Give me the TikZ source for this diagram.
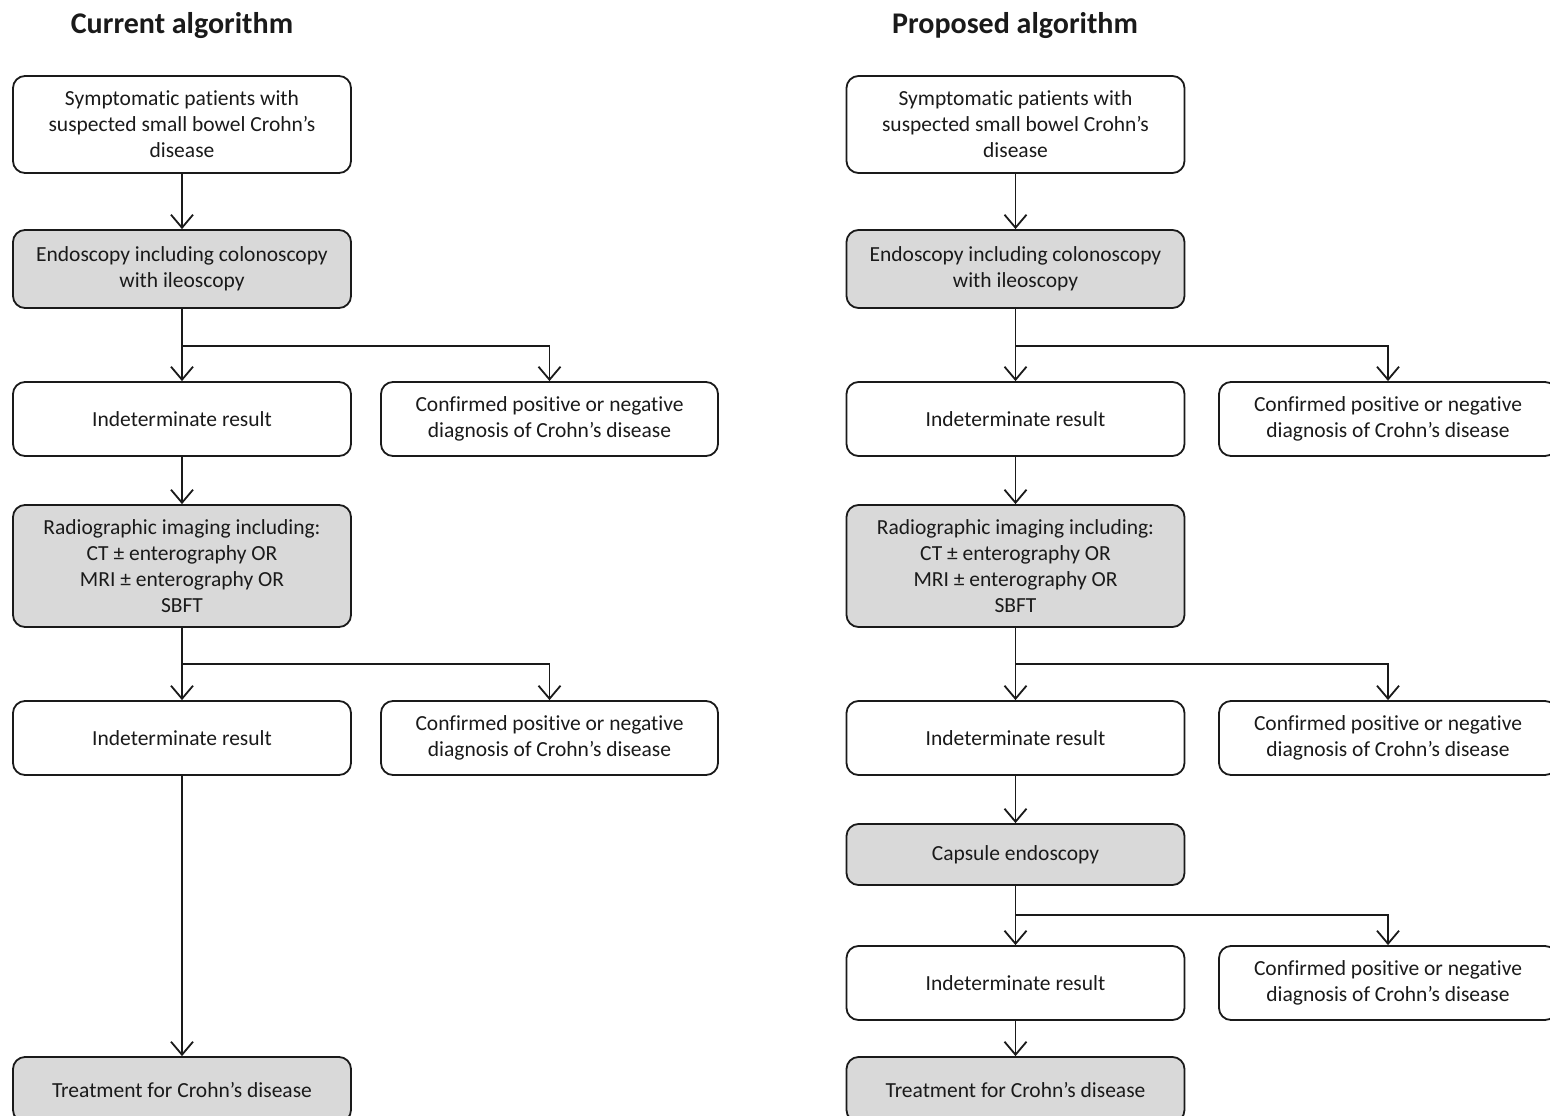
\documentclass[tikz,border=0pt]{standalone}
\usepackage{fontspec}
\setmainfont{Carlito}[Ligatures=NoCommon]
\usetikzlibrary{arrows.meta}
\definecolor{boxgray}{HTML}{D9D9D9}
\definecolor{ink}{HTML}{1A1A1A}
\tikzset{
  box/.style={draw=ink, line width=1.8pt, rounded corners=12pt, align=center,
    font=\fontsize{21.5}{26}\selectfont, text=ink, minimum width=338pt, inner sep=0pt},
  gbox/.style={box, fill=boxgray},
  wbox/.style={box, fill=white},
  lbl/.style={font=\fontsize{21.5}{26}\selectfont, text=ink},
  arr/.style={draw=ink, line width=1.8pt, -{Straight Barb[length=13pt,width=22pt,line width=1.8pt]}},
  ttl/.style={font=\fontsize{30}{34}\selectfont\bfseries, text=ink}
}
\begin{document}
\begin{tikzpicture}[x=1pt,y=-1pt]
\useasboundingbox[fill=white] (0,0) rectangle (1550,1116);
% titles
\node[ttl] (t1) at (182,26) {Current algorithm};
\node[ttl] (t2) at (1015,26) {Proposed algorithm};
% left column
\node[wbox, minimum height=97pt] (L1) at (182,124.5) {Symptomatic patients with\\suspected small bowel Crohn’s\\disease};
\node[gbox, minimum height=78pt] (L2) at (182,269) {Endoscopy including colonoscopy\\with ileoscopy};
\node[wbox, minimum height=74pt] (L3) at (182,419) {Indeterminate result};
\node[wbox, minimum height=74pt, minimum width=337pt] (L3r) at (549.5,419) {Confirmed positive or negative\\diagnosis of Crohn’s disease};
\node[gbox, minimum height=122pt] (L4) at (182,566) {Radiographic imaging including:\\CT ± enterography OR\\MRI ± enterography OR\\SBFT};
\node[wbox, minimum height=74pt] (L5) at (182,738) {Indeterminate result};
\node[wbox, minimum height=74pt, minimum width=337pt] (L5r) at (549.5,738) {Confirmed positive or negative\\diagnosis of Crohn’s disease};
\node[gbox, minimum height=65pt] (L6) at (182,1089.5) {};
\node[lbl] (L6t) at (182,1090) {Treatment for Crohn’s disease};
% right column
\node[wbox, minimum height=97pt] (R1) at (1015.5,124.5) {Symptomatic patients with\\suspected small bowel Crohn’s\\disease};
\node[gbox, minimum height=78pt] (R2) at (1015.5,269) {Endoscopy including colonoscopy\\with ileoscopy};
\node[wbox, minimum height=74pt] (R3) at (1015.5,419) {Indeterminate result};
\node[wbox, minimum height=74pt] (R3r) at (1388,419) {Confirmed positive or negative\\diagnosis of Crohn’s disease};
\node[gbox, minimum height=122pt] (R4) at (1015.5,566) {Radiographic imaging including:\\CT ± enterography OR\\MRI ± enterography OR\\SBFT};
\node[wbox, minimum height=74pt] (R5) at (1015.5,738) {Indeterminate result};
\node[wbox, minimum height=74pt] (R5r) at (1388,738) {Confirmed positive or negative\\diagnosis of Crohn’s disease};
\node[gbox, minimum height=61pt] (R6) at (1015.5,854.5) {Capsule endoscopy};
\node[wbox, minimum height=74pt] (R7) at (1015.5,983) {Indeterminate result};
\node[wbox, minimum height=74pt] (R7r) at (1388,983) {Confirmed positive or negative\\diagnosis of Crohn’s disease};
\node[gbox, minimum height=65pt] (R8) at (1015.5,1089.5) {};
\node[lbl] (R8t) at (1015.5,1090) {Treatment for Crohn’s disease};
% branch points
\coordinate (bL1) at (182,346);
\coordinate (bL2) at (182,664);
\coordinate (bR1) at (1015.5,346);
\coordinate (bR2) at (1015.5,664);
\coordinate (bR3) at (1015.5,915);
% connectors left
\draw[arr] (L1) -- (L2);
\draw[arr] (L2) -- (L3);
\draw[arr] (bL1) -| (L3r);
\draw[arr] (L3) -- (L4);
\draw[arr] (L4) -- (L5);
\draw[arr] (bL2) -| (L5r);
\draw[arr] (L5) -- (L6);
% connectors right
\draw[arr] (R1) -- (R2);
\draw[arr] (R2) -- (R3);
\draw[arr] (bR1) -| (R3r);
\draw[arr] (R3) -- (R4);
\draw[arr] (R4) -- (R5);
\draw[arr] (bR2) -| (R5r);
\draw[arr] (R5) -- (R6);
\draw[arr] (R6) -- (R7);
\draw[arr] (bR3) -| (R7r);
\draw[arr] (R7) -- (R8);
\end{tikzpicture}
\end{document}
